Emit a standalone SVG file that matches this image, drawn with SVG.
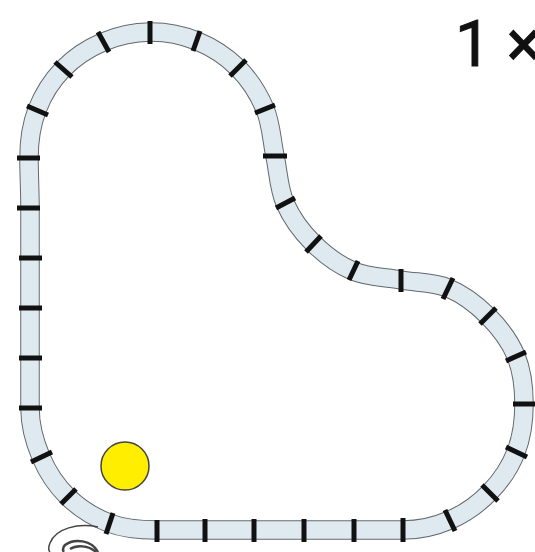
<svg xmlns="http://www.w3.org/2000/svg" width="535" height="552" viewBox="0 0 535 552">
<style>
.edge{fill:none;stroke:#62696d;stroke-width:19.5}
.bed{fill:none;stroke:#dfeaf0;stroke-width:17.5}
.tick{stroke:#111;stroke-width:5;stroke-linecap:butt}
.coil{fill:none;stroke:#444;stroke-width:1.5}
</style>
<defs>
<path id="loop" d="M150,32C165.7,31.8 182.3,35 197,41C211.7,47 226.7,56.7 238,68C249.3,79.3 258.8,94.3 265,109C271.2,123.7 271.7,140.3 275,156C278.3,171.7 278.7,188.5 285,203C291.3,217.5 301.7,231.7 313,243C324.3,254.3 338.3,264.8 353,271C367.7,277.2 385.2,277.2 401,280C416.8,282.8 433.5,282 448,288C462.5,294 476.7,304.7 488,316C499.3,327.3 510,341.3 516,356C522,370.7 524,388 524,404C524,420 521.7,437.3 516,452C510.3,466.7 501,480.7 490,492C479,503.3 464.5,513.7 450,520C435.5,526.3 419,530 403,530C387,530 370.5,530 354,530C337.5,530 320.7,530 304,530C287.3,530 270.5,530 254,530C237.5,530 221.2,530 205,530C188.8,530 173,530 157,530C141,530 123.8,528.7 109,523C94.2,517.3 79.3,508 68,497C56.7,486 47.3,471.8 41,457C34.7,442.2 30,424.5 30,408C30,391.5 30,374.7 30,358C30,341.3 30,324.7 30,308C30,291.3 30,274.7 30,258C30,241.3 30,224.7 30,208C30,191.3 29,174.3 29,158C29,141.7 31.3,124.8 37,110C42.7,95.2 52,80.3 63,69C74,57.7 88.5,48.2 103,42C117.5,35.8 134.3,32.2 150,32Z"/>
</defs>
<rect width="535" height="552" fill="#fff"/>
<g id="track">
<use href="#loop" class="edge"/>
<use href="#loop" class="bed"/>
</g>
<g id="ties">
<line class="tick" x1="150" y1="21" x2="150" y2="44"/>
<line class="tick" x1="200" y1="31" x2="193" y2="51"/>
<line class="tick" x1="246" y1="60" x2="230" y2="76"/>
<line class="tick" x1="275" y1="105" x2="255" y2="113"/>
<line class="tick" x1="263" y1="156" x2="287" y2="156"/>
<line class="tick" x1="276" y1="208" x2="295" y2="198"/>
<line class="tick" x1="306" y1="252" x2="321" y2="236"/>
<line class="tick" x1="349" y1="280" x2="358" y2="261"/>
<line class="tick" x1="401" y1="269" x2="401" y2="292"/>
<line class="tick" x1="443" y1="299" x2="453" y2="278"/>
<line class="tick" x1="480" y1="324" x2="496" y2="308"/>
<line class="tick" x1="506" y1="361" x2="526" y2="352"/>
<line class="tick" x1="513" y1="404" x2="535" y2="404"/>
<line class="tick" x1="506" y1="447" x2="527" y2="457"/>
<line class="tick" x1="482" y1="485" x2="498" y2="501"/>
<line class="tick" x1="445" y1="510" x2="455" y2="531"/>
<line class="tick" x1="403" y1="518" x2="403" y2="542"/>
<line class="tick" x1="354" y1="519" x2="354" y2="542"/>
<line class="tick" x1="304" y1="519" x2="304" y2="542"/>
<line class="tick" x1="254" y1="519" x2="254" y2="542"/>
<line class="tick" x1="205" y1="519" x2="205" y2="542"/>
<line class="tick" x1="157" y1="520" x2="157" y2="542"/>
<line class="tick" x1="113" y1="513" x2="106" y2="534"/>
<line class="tick" x1="76" y1="489" x2="61" y2="504"/>
<line class="tick" x1="52" y1="452" x2="31" y2="462"/>
<line class="tick" x1="19" y1="408" x2="42" y2="408"/>
<line class="tick" x1="19" y1="358" x2="42" y2="358"/>
<line class="tick" x1="19" y1="308" x2="42" y2="308"/>
<line class="tick" x1="19" y1="258" x2="42" y2="258"/>
<line class="tick" x1="17" y1="208" x2="40" y2="208"/>
<line class="tick" x1="17" y1="158" x2="40" y2="158"/>
<line class="tick" x1="27" y1="106" x2="48" y2="115"/>
<line class="tick" x1="55" y1="62" x2="72" y2="77"/>
<line class="tick" x1="98" y1="32" x2="109" y2="52"/>
</g>
<g id="coil">
<path class="coil" d="M98,527C78,523 56,528 50,543C48,548 49,551 50,552"/>
<path class="coil" style="stroke-width:2.5" d="M98,552C92,540 74,538 65,545C62,548 63,551 64,552"/>
<path class="coil" style="stroke-width:2.5" d="M96,552C88,545 76,545 70,549"/>
</g>
<g id="ball">
<circle cx="125" cy="466" r="24" fill="#ffee00" stroke="#444" stroke-width="1.5"/>
</g>
<text id="label" x="455" y="66" font-family="Roboto,'Liberation Sans',sans-serif" font-size="64" fill="#111" stroke="#111" stroke-width="1">1 ×</text>
</svg>
